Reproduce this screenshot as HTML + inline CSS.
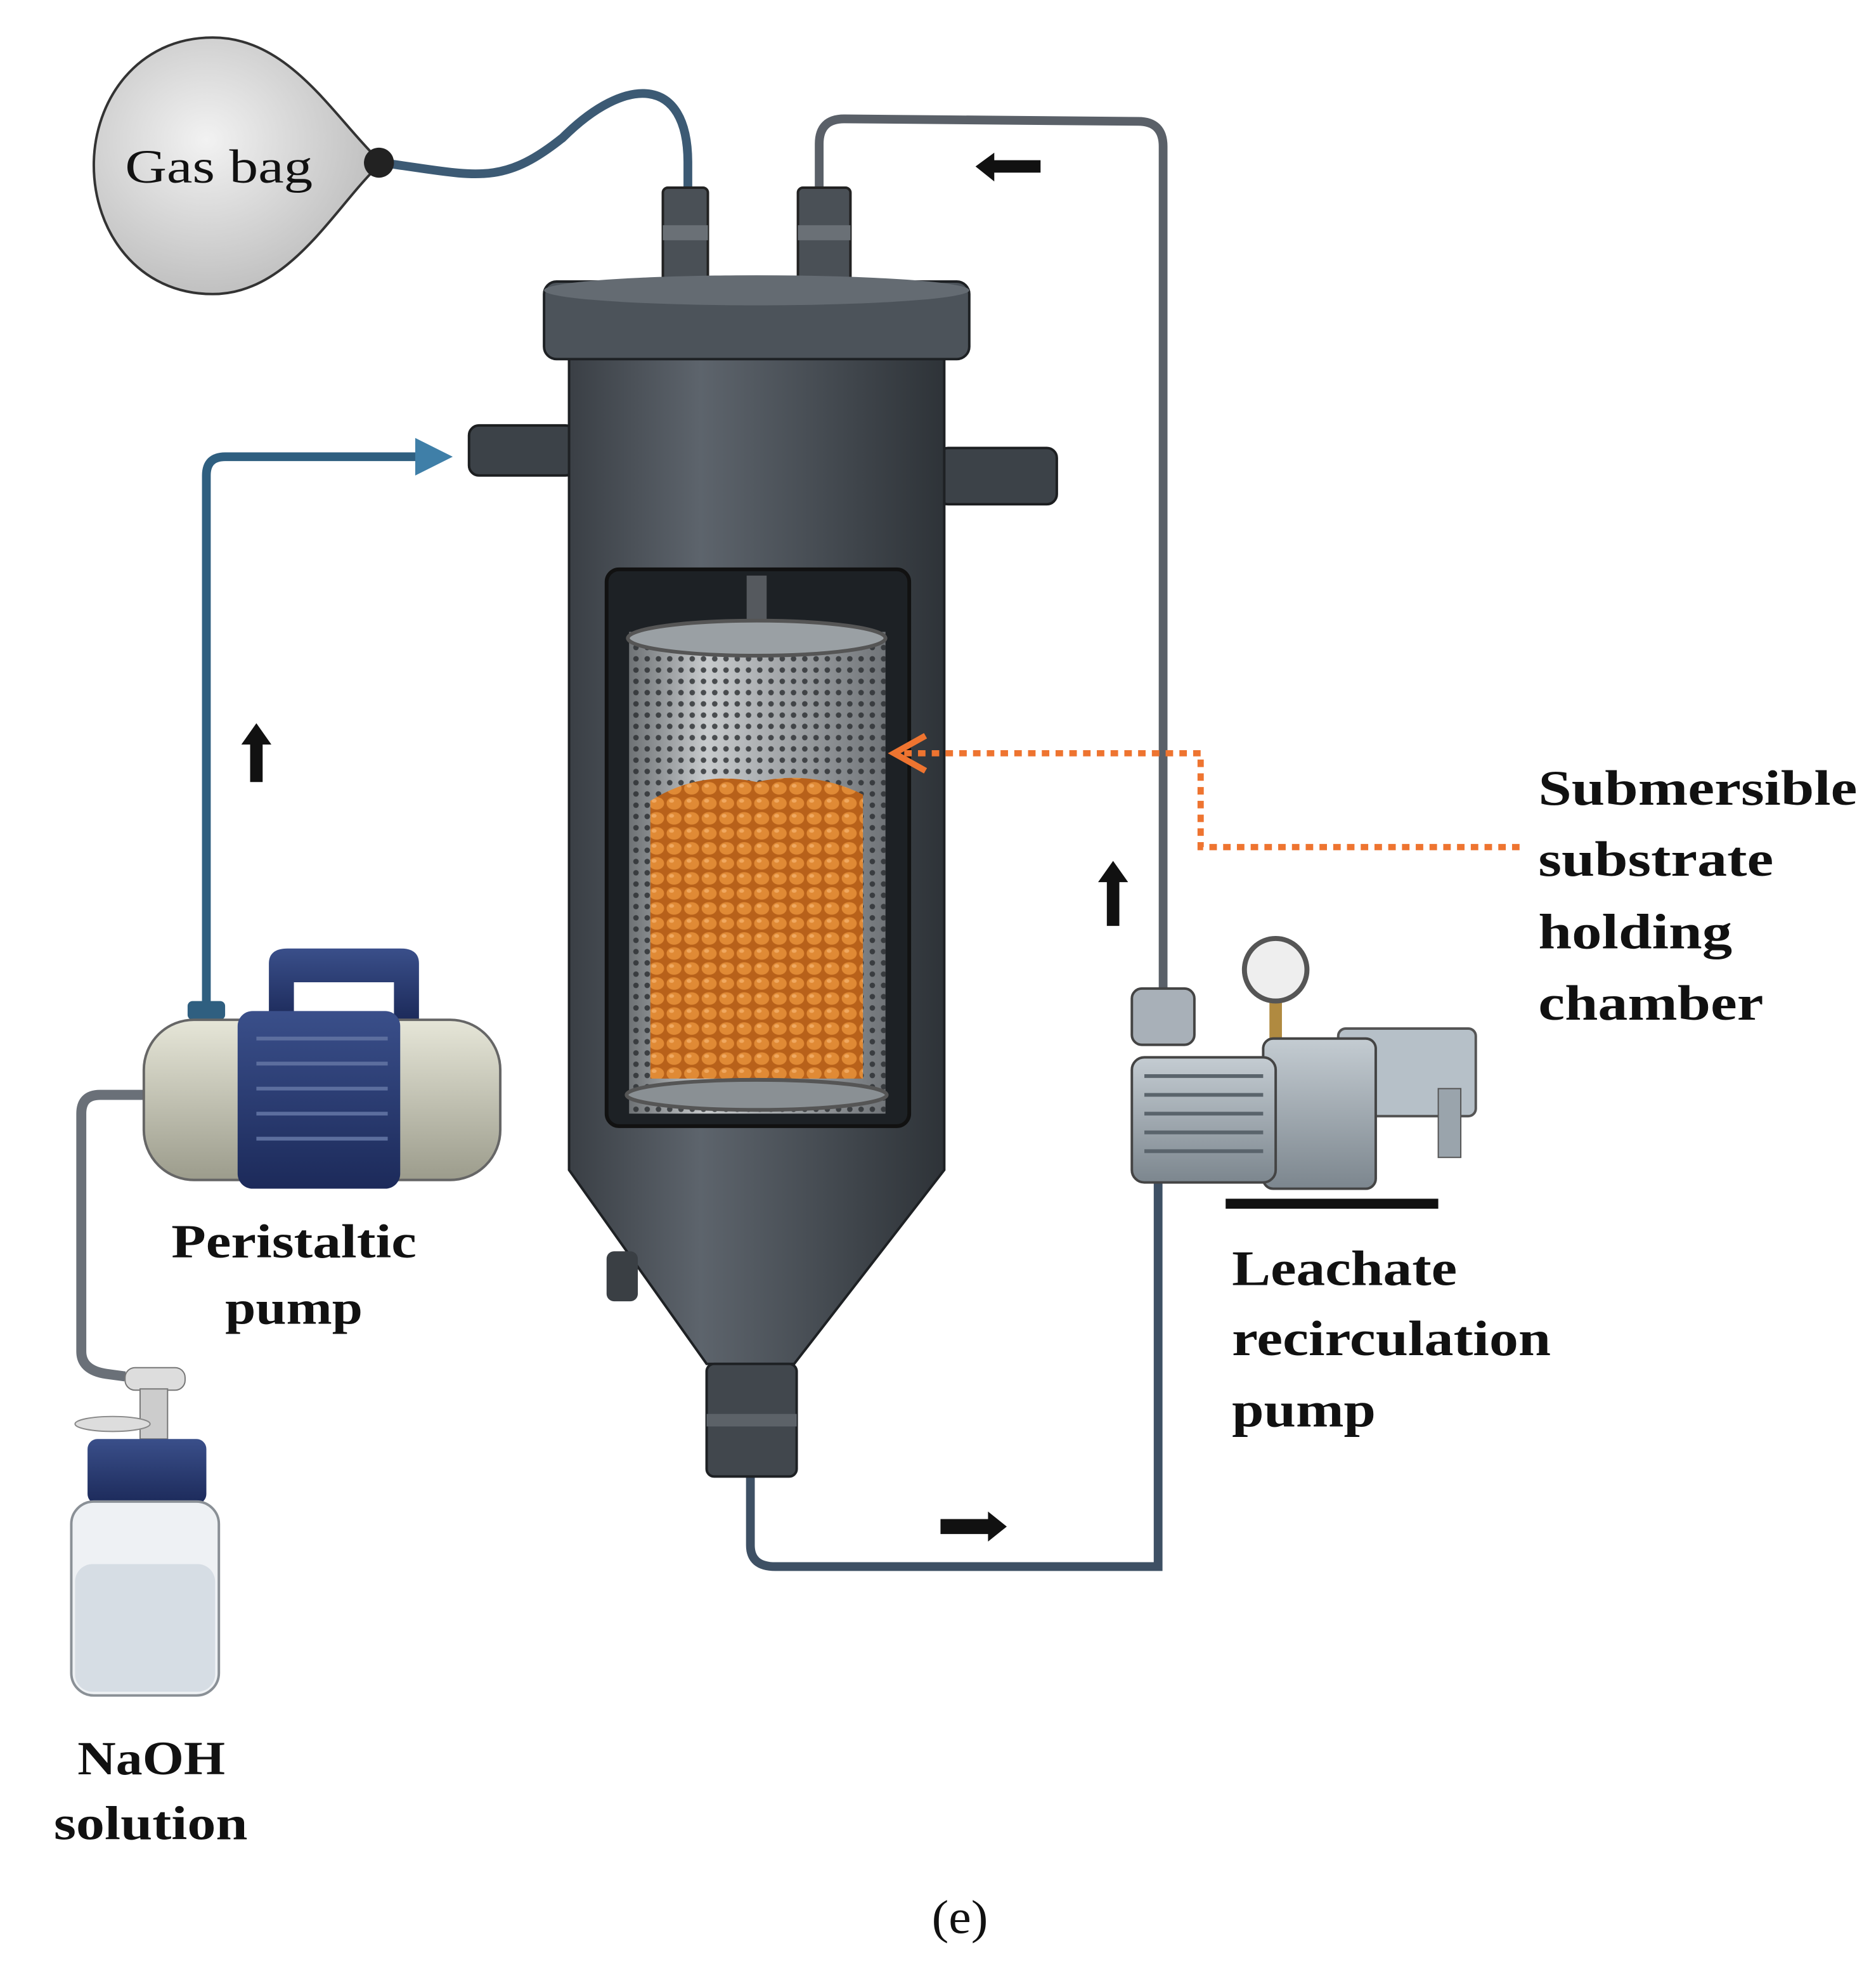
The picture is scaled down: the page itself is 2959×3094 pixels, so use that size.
<!DOCTYPE html>
<html><head><meta charset="utf-8"><style>
html,body{margin:0;padding:0;background:#fff}
svg{display:block}
text{font-family:"Liberation Serif",serif;fill:#111}
</style></head><body>
<svg width="2959" height="3094" viewBox="0 0 1500 1568" preserveAspectRatio="none" xmlns="http://www.w3.org/2000/svg">
<defs>
<radialGradient id="bag" cx="0.4" cy="0.4" r="0.7"><stop offset="0" stop-color="#f2f2f2"/><stop offset="1" stop-color="#b8b8b8"/></radialGradient>
<linearGradient id="body" x1="0" x2="1"><stop offset="0" stop-color="#3a3f45"/><stop offset="0.35" stop-color="#5d646c"/><stop offset="1" stop-color="#2e3338"/></linearGradient>
<linearGradient id="basket" x1="0" x2="1"><stop offset="0" stop-color="#6e7275"/><stop offset="0.3" stop-color="#c8cbcd"/><stop offset="1" stop-color="#707478"/></linearGradient>
<linearGradient id="beige" x1="0" y1="0" x2="0" y2="1"><stop offset="0" stop-color="#e6e6d8"/><stop offset="1" stop-color="#9c9c8c"/></linearGradient>
<linearGradient id="blue" x1="0" y1="0" x2="0" y2="1"><stop offset="0" stop-color="#3a4f8a"/><stop offset="1" stop-color="#1c2a5a"/></linearGradient>
<linearGradient id="pumpg" x1="0" y1="0" x2="0" y2="1"><stop offset="0" stop-color="#c4ccd2"/><stop offset="1" stop-color="#7c868e"/></linearGradient>
<pattern id="holes" width="9" height="9" patternUnits="userSpaceOnUse"><circle cx="4.5" cy="4.5" r="2.2" fill="#2a2d30"/></pattern>
<pattern id="beans" width="14" height="12" patternUnits="userSpaceOnUse"><rect width="14" height="12" fill="#b8611a"/><ellipse cx="7" cy="6" rx="6" ry="5" fill="#e08a35"/><ellipse cx="5" cy="4" rx="2" ry="1.5" fill="#f0a860"/></pattern>
</defs>
<rect width="1500" height="1568" fill="#fff"/>
<path d="M305,130 C380,140 400,150 450,110 C500,60 550,60 550,130 L550,160" fill="none" stroke="#3c5a74" stroke-width="7"/>
<path d="M655,160 L655,115 Q655,95 675,95 L910,97 Q930,97 930,117 L930,790" fill="none" stroke="#5a6068" stroke-width="7"/>
<path d="M600,1180 L600,1235 Q600,1252 620,1252 L926,1252 L926,945" fill="none" stroke="#3e5064" stroke-width="7"/>
<path d="M165,805 L165,380 Q165,365 180,365 L340,365" fill="none" stroke="#2f5f80" stroke-width="7"/>
<polygon points="332,350 362,365 332,380" fill="#3f7fa8"/>
<path d="M115,875 L80,875 Q65,875 65,890 L65,1080 Q65,1095 85,1098 L100,1100" fill="none" stroke="#6a7078" stroke-width="8"/>
<path d="M170,30 C230,30 265,90 300,125 C300,135 300,135 300,135 C265,170 230,235 170,235 C110,235 75,185 75,132 C75,80 110,30 170,30 Z" fill="url(#bag)" stroke="#333" stroke-width="2"/>
<circle cx="303" cy="130" r="12" fill="#222"/>
<text x="100" y="146" font-size="38" textLength="150" lengthAdjust="spacingAndGlyphs">Gas bag</text>
<rect x="530" y="150" width="36" height="80" rx="4" fill="#4a5056" stroke="#222" stroke-width="2"/>
<rect x="530" y="180" width="36" height="12" fill="#6a7076"/>
<rect x="638" y="150" width="42" height="80" rx="4" fill="#4a5056" stroke="#222" stroke-width="2"/>
<rect x="638" y="180" width="42" height="12" fill="#6a7076"/>
<rect x="375" y="340" width="85" height="40" rx="8" fill="#3c4248" stroke="#1c1e20" stroke-width="2"/>
<rect x="750" y="358" width="95" height="45" rx="8" fill="#3c4248" stroke="#1c1e20" stroke-width="2"/>
<path d="M455,285 L755,285 L755,935 L635,1090 L565,1090 L455,935 Z" fill="url(#body)" stroke="#1e2124" stroke-width="2"/>
<rect x="435" y="225" width="340" height="62" rx="10" fill="#4c535a" stroke="#1e2124" stroke-width="2"/>
<ellipse cx="605" cy="232" rx="170" ry="12" fill="#646b72"/>
<rect x="485" y="1000" width="25" height="40" rx="6" fill="#3a3f44"/>
<rect x="565" y="1090" width="72" height="90" rx="6" fill="#41474d" stroke="#1e2124" stroke-width="2"/>
<rect x="565" y="1130" width="72" height="10" fill="#5c6268"/>
<rect x="485" y="455" width="242" height="445" rx="10" fill="#1d2125" stroke="#111" stroke-width="3"/>
<rect x="597" y="460" width="16" height="50" fill="#55595e"/>
<rect x="503" y="505" width="205" height="385" fill="url(#basket)"/>
<rect x="503" y="505" width="205" height="385" fill="url(#holes)" opacity="0.8"/>
<path d="M520,640 Q560,615 605,625 Q650,615 690,635 L690,862 L520,862 Z" fill="url(#beans)"/>
<ellipse cx="605" cy="510" rx="103" ry="14" fill="#9aa0a4" stroke="#555" stroke-width="3"/>
<ellipse cx="605" cy="875" rx="104" ry="12" fill="#8a9094" stroke="#555" stroke-width="3"/>
<path d="M1215,677 L960,677 L960,602 L718,602" fill="none" stroke="#ee7430" stroke-width="5" stroke-dasharray="6,5"/>
<path d="M740,588 L715,602 L740,616" fill="none" stroke="#ee7430" stroke-width="5"/>
<path d="M780,133 L795,122 L795,128 L832,128 L832,138 L795,138 L795,145 Z" fill="#111"/>
<path d="M805,1220 L790,1208 L790,1214 L752,1214 L752,1226 L790,1226 L790,1232 Z" fill="#111"/>
<path d="M890,688 L878,705 L885,705 L885,740 L895,740 L895,705 L902,705 Z" fill="#111"/>
<path d="M205,578 L193,595 L200,595 L200,625 L210,625 L210,595 L217,595 Z" fill="#111"/>
<rect x="905" y="790" width="50" height="45" rx="8" fill="#a8b0b8" stroke="#444" stroke-width="2"/>
<rect x="1015" y="790" width="10" height="40" fill="#b08a40"/>
<circle cx="1020" cy="775" r="25" fill="#eee" stroke="#555" stroke-width="4"/>
<rect x="1070" y="822" width="110" height="70" rx="6" fill="#b6c0c8" stroke="#555" stroke-width="2"/>
<rect x="1150" y="870" width="18" height="55" fill="#9aa4ac" stroke="#555"/>
<rect x="1010" y="830" width="90" height="120" rx="8" fill="url(#pumpg)" stroke="#444" stroke-width="2"/>
<rect x="905" y="845" width="115" height="100" rx="10" fill="url(#pumpg)" stroke="#444" stroke-width="2"/>
<g stroke="#5a646c" stroke-width="3"><line x1="915" y1="860" x2="1010" y2="860"/><line x1="915" y1="875" x2="1010" y2="875"/><line x1="915" y1="890" x2="1010" y2="890"/><line x1="915" y1="905" x2="1010" y2="905"/><line x1="915" y1="920" x2="1010" y2="920"/></g>
<rect x="980" y="958" width="170" height="8" fill="#111"/>
<path d="M215,815 L215,770 Q215,758 230,758 L320,758 Q335,758 335,770 L335,815 L315,815 L315,785 L235,785 L235,815 Z" fill="url(#blue)"/>
<rect x="150" y="800" width="30" height="15" rx="4" fill="#2f5f80"/>
<rect x="115" y="815" width="285" height="128" rx="40" fill="url(#beige)" stroke="#666" stroke-width="2"/>
<rect x="190" y="808" width="130" height="142" rx="12" fill="url(#blue)"/>
<g stroke="#5c6e9e" stroke-width="3"><line x1="205" y1="830" x2="310" y2="830"/><line x1="205" y1="850" x2="310" y2="850"/><line x1="205" y1="870" x2="310" y2="870"/><line x1="205" y1="890" x2="310" y2="890"/><line x1="205" y1="910" x2="310" y2="910"/></g>
<g font-size="38" font-weight="bold">
<text x="137" y="1005" textLength="196" lengthAdjust="spacingAndGlyphs">Peristaltic</text>
<text x="180" y="1058" textLength="110" lengthAdjust="spacingAndGlyphs">pump</text>
<text x="62" y="1418" textLength="118" lengthAdjust="spacingAndGlyphs">NaOH</text>
<text x="43" y="1470" textLength="155" lengthAdjust="spacingAndGlyphs">solution</text>
</g>
<rect x="100" y="1093" width="48" height="18" rx="8" fill="#ddd" stroke="#777"/>
<rect x="112" y="1110" width="22" height="40" fill="#ccc" stroke="#777"/>
<ellipse cx="90" cy="1138" rx="30" ry="6" fill="#ddd" stroke="#888"/>
<rect x="70" y="1150" width="95" height="52" rx="8" fill="url(#blue)"/>
<rect x="57" y="1200" width="118" height="155" rx="18" fill="#eef1f4" stroke="#8a9096" stroke-width="2"/>
<rect x="60" y="1250" width="112" height="102" rx="14" fill="#d6dde4"/>
<g font-size="40" font-weight="bold">
<text x="1230" y="643" textLength="255" lengthAdjust="spacingAndGlyphs">Submersible</text>
<text x="1230" y="700" textLength="188" lengthAdjust="spacingAndGlyphs">substrate</text>
<text x="1230" y="758" textLength="155" lengthAdjust="spacingAndGlyphs">holding</text>
<text x="1230" y="815" textLength="180" lengthAdjust="spacingAndGlyphs">chamber</text>
<text x="985" y="1027" textLength="180" lengthAdjust="spacingAndGlyphs">Leachate</text>
<text x="985" y="1083" textLength="255" lengthAdjust="spacingAndGlyphs">recirculation</text>
<text x="985" y="1140" textLength="115" lengthAdjust="spacingAndGlyphs">pump</text>
</g>
<text x="745" y="1545" font-size="38" textLength="45" lengthAdjust="spacingAndGlyphs">(e)</text>
</svg>
</body></html>
